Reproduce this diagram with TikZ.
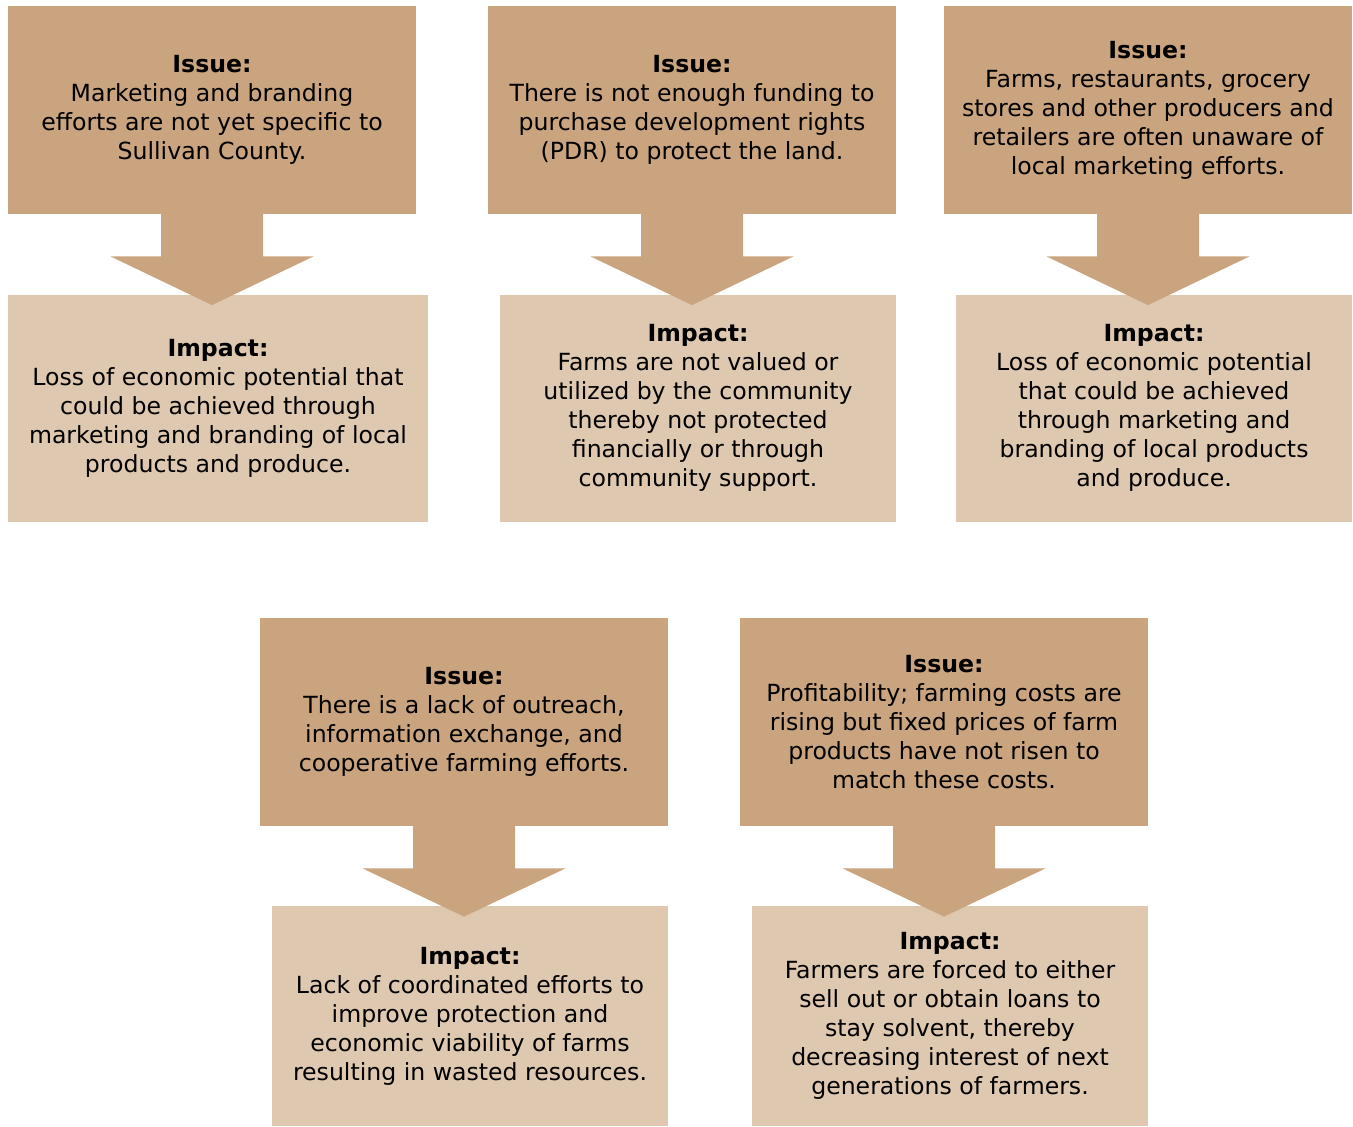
\documentclass[tikz,border=0pt]{standalone}
\usepackage{fontspec}
\setmainfont{DejaVu Sans}
\usetikzlibrary{calc}

\definecolor{issuebrown}{RGB}{201,164,126}
\definecolor{impacttan}{RGB}{223,200,176}

\tikzset{
  boxtext/.style={inner sep=0pt, align=center, font=\fontsize{11.8}{14.5}\selectfont},
  issue/.style={boxtext, fill=issuebrown, minimum width=204pt, minimum height=104pt},
  impact/.style={boxtext, fill=impacttan, minimum width=198pt},
  flow/.style={fill=issuebrown}
}

% block arrow from an issue box down into its impact box
\newcommand{\flowarrow}[2]{%
  \fill[flow] ($(#1.south)+(-51,-1)$) -- ($(#1.south)+(-51,42)$)
    -- ($(#1.south)+(-101.5,42)$) -- ($(#1.south |- #2.north)+(0,11)$)
    -- ($(#1.south)+(101.5,42)$) -- ($(#1.south)+(51,42)$)
    -- ($(#1.south)+(51,-1)$) -- cycle;}

\begin{document}
\begin{tikzpicture}[x=0.5pt,y=-0.5pt]
\useasboundingbox (0,0) rectangle (1353,1126);

% top row
\node[issue] (issueA) at (212,110) {\textbf{Issue:}\\Marketing and branding\\efforts are not yet specific to\\Sullivan County.};
\node[issue] (issueB) at (692,110) {\textbf{Issue:}\\There is not enough funding to\\purchase development rights\\(PDR) to protect the land.};
\node[issue] (issueC) at (1148,110) {\textbf{Issue:}\\Farms, restaurants, grocery\\stores and other producers and\\retailers are often unaware of\\local marketing efforts.};

\node[impact, minimum width=210pt, minimum height=113.5pt] (impactA) at (218,408) {\textbf{Impact:}\\Loss of economic potential that\\could be achieved through\\marketing and branding of local\\products and produce.};
\node[impact, minimum height=113.5pt] (impactB) at (698,408) {\textbf{Impact:}\\Farms are not valued or\\utilized by the community\\thereby not protected\\financially or through\\community support.};
\node[impact, minimum height=113.5pt] (impactC) at (1154,408) {\textbf{Impact:}\\Loss of economic potential\\that could be achieved\\through marketing and\\branding of local products\\and produce.};

% bottom row
\node[issue] (issueD) at (464,722) {\textbf{Issue:}\\There is a lack of outreach,\\information exchange, and\\cooperative farming efforts.};
\node[issue] (issueE) at (944,722) {\textbf{Issue:}\\Profitability; farming costs are\\rising but fixed prices of farm\\products have not risen to\\match these costs.};

\node[impact, minimum height=110pt] (impactD) at (470,1016) {\textbf{Impact:}\\Lack of coordinated efforts to\\improve protection and\\economic viability of farms\\resulting in wasted resources.};
\node[impact, minimum height=110pt] (impactE) at (950,1016) {\textbf{Impact:}\\Farmers are forced to either\\sell out or obtain loans to\\stay solvent, thereby\\decreasing interest of next\\generations of farmers.};

\flowarrow{issueA}{impactA}
\flowarrow{issueB}{impactB}
\flowarrow{issueC}{impactC}
\flowarrow{issueD}{impactD}
\flowarrow{issueE}{impactE}
\end{tikzpicture}
\end{document}
